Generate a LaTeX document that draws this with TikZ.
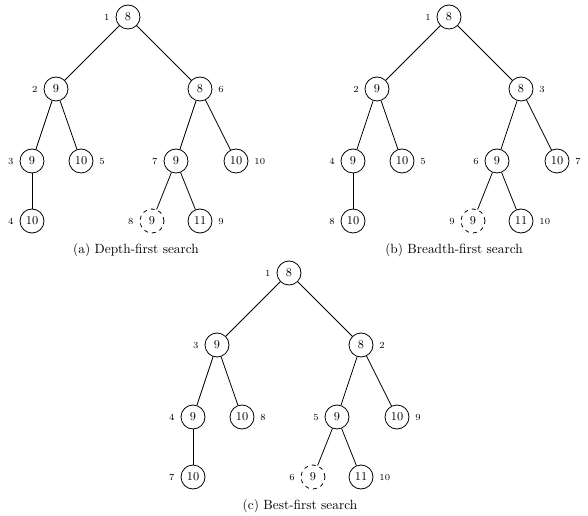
\documentclass[tikz,border=0pt]{standalone}
\usetikzlibrary{positioning}
\begin{document}
\begin{tikzpicture}[
  x=0.75pt, y=-0.75pt,
  every node/.style={font=\small},
  state/.style={circle, draw, line width=0.6pt, minimum size=18pt, inner sep=0pt},
  pruned/.style={state, dashed},
  every label/.style={font=\scriptsize},
  label distance=1pt,
  edge/.style={line width=0.6pt},
  caption/.style={font=\normalsize}
]
\useasboundingbox (0,0) rectangle (588,516);

% one tree per search order: name/root/caption position/visit order
\foreach \t/\rx/\ry/\cx/\cy/\cap/\qa/\qb/\qc/\qd/\qe/\qf/\qg/\qh/\qi/\qj in {
  a/128/17/136/250/{(a) Depth-first search}/1/2/6/3/5/7/10/4/8/9,
  b/449/17/454/250/{(b) Breadth-first search}/1/2/3/4/5/6/7/8/9/10,
  c/289/273/300/506/{(c) Best-first search}/1/3/2/4/8/5/9/7/6/10}
{
  \begin{scope}[shift={(\rx,\ry)}]
    \node[state, label={left:\qa}] (\t0) at (0,0) {8};
    \node[state, label={left:\qb}] (\t1) at (-72,72) {9};
    \node[state, label={right:\qc}] (\t2) at (72,72) {8};
    \node[state, label={left:\qd}] (\t3) at (-96,144) {9};
    \node[state, label={right:\qe}] (\t4) at (-47,144) {10};
    \node[state, label={left:\qf}] (\t5) at (48,144) {9};
    \node[state, label={right:\qg}] (\t6) at (108,144) {10};
    \node[state, label={left:\qh}] (\t7) at (-96,204) {10};
    \node[pruned, label={left:\qi}] (\t8) at (24,204) {9};
    \node[state, label={right:\qj}] (\t9) at (72,204) {11};

    \draw[edge] (\t0) -- (\t1);
    \draw[edge] (\t0) -- (\t2);
    \draw[edge] (\t1) -- (\t3);
    \draw[edge] (\t1) -- (\t4);
    \draw[edge] (\t2) -- (\t5);
    \draw[edge] (\t2) -- (\t6);
    \draw[edge] (\t3) -- (\t7);
    \draw[edge] (\t5) -- (\t8);
    \draw[edge] (\t5) -- (\t9);
  \end{scope}
  \node[caption] (\t-cap) at (\cx,\cy) {\cap};
}
\end{tikzpicture}
\end{document}
